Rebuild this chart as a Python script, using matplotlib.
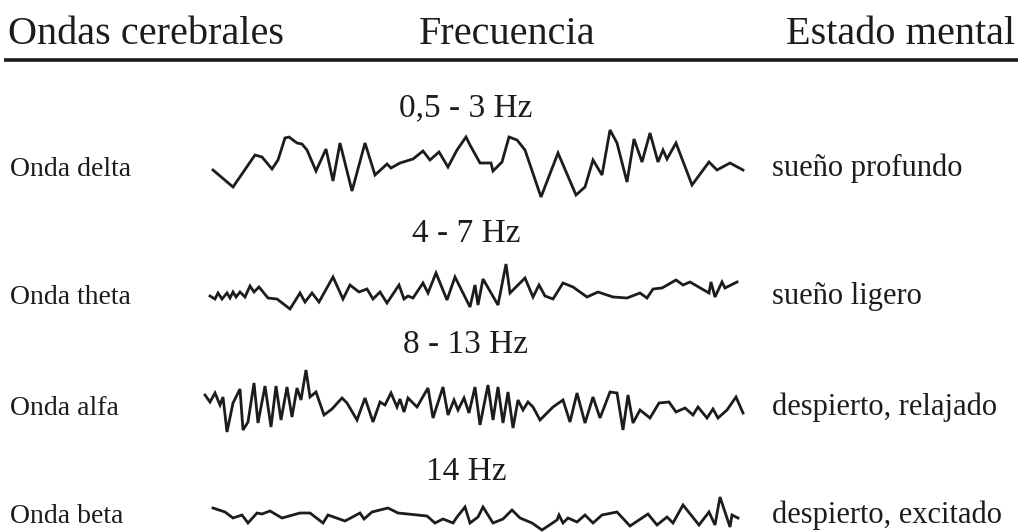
import numpy as np
import matplotlib.pyplot as plt

plt.rcParams['font.family'] = ['Liberation Serif', 'DejaVu Serif']

headers = ['Ondas cerebrales', 'Frecuencia', 'Estado mental']
wave_names = ['Onda delta', 'Onda theta', 'Onda alfa', 'Onda beta']
freqs = ['0,5 - 3 Hz', '4 - 7 Hz', '8 - 13 Hz', '14 Hz']
states = ['sueño profundo', 'sueño ligero', 'despierto, relajado', 'despierto, excitado']

# traces: t = horizontal step, a = deflection (up is +)
delta_t = [0, 20, 42, 49, 59, 65, 72, 76, 84, 89, 94, 103, 113, 120, 127, 139, 152, 162, 174, 178,
           187, 200, 210, 217, 226, 235, 244, 253, 257, 267, 278, 280, 289, 296, 304, 312, 328, 345,
           363, 372, 380, 389, 397, 404, 414, 421, 429, 437, 445, 450, 454, 463, 479, 496, 504, 517, 530]
delta_a = [-6, -23, 9, 7, -5, 4, 26, 27, 21, 20, 14, -7, 15, -17, 21, -27, 21, -11, 0, -4,
           1, 5, 13, 4, 12, -3, 14, 27, 19, 1, 1, -7, 2, 27, 24, 14, -33, 11,
           -31, -23, 4, -11, 34, 21, -18, 25, 2, 31, 2, 14, 5, 21, -21, 2, -6, 1, -6]

theta_t = [0, 5, 8, 12, 17, 20, 23, 26, 30, 35, 40, 44, 49, 58, 67, 80, 90, 95, 102, 109, 123, 133,
           140, 149, 157, 163, 170, 177, 189, 194, 198, 203, 213, 218, 226, 237, 245, 260, 265, 268,
           273, 288, 296, 300, 315, 323, 329, 335, 343, 353, 363, 377, 388, 403, 417, 430, 437, 443,
           452, 466, 473, 480, 499, 501, 505, 512, 515, 527]
theta_a = [-4, -7, -1, -7, -1, -6, 0, -5, 0, -5, 6, 0, 5, -6, -7, -17, -1, -10, -1, -10, 15, -7,
           7, 0, 3, -7, 0, -11, 7, -7, -4, -6, 9, -1, 19, -8, 15, -15, 7, -13,
           13, -13, 28, -1, 14, -5, 7, -4, -7, 9, 5, -5, 0, -5, -6, -1, -6, 3,
           4, 12, 7, 10, -1, 10, -5, 10, 4, 10]

alfa_t = [0, 5, 10, 15, 18, 22, 28, 35, 38, 43, 49, 53, 60, 66, 71, 76, 82, 87, 92, 96, 101, 105,
          111, 119, 127, 137, 142, 152, 160, 168, 175, 180, 186, 192, 195, 199, 203, 212, 223, 228,
          238, 243, 249, 253, 259, 264, 270, 275, 283, 288, 293, 298, 303, 308, 313, 318, 323, 328,
          335, 348, 358, 365, 372, 380, 388, 395, 405, 412, 418, 423, 428, 435, 445, 454, 464, 471,
          480, 488, 493, 502, 508, 513, 522, 531, 538]
alfa_a = [10, 3, 12, 0, 8, -27, 2, 16, -25, -17, 22, -18, 19, -22, 19, -15, 18, -12, 17, 5, 35, 8,
          13, -10, -4, 7, 2, -15, 7, -17, 3, 0, 12, -2, 6, -7, 7, -2, 17, -13,
          18, -10, 5, -5, 7, -8, 18, -20, 20, -15, 18, -18, 13, -23, 5, -5, 3, -2,
          -15, -2, 5, -17, 12, -18, 8, -13, 13, 12, -25, 10, -18, -5, -13, 2, 3, -7,
          -3, -10, -2, -13, -4, -13, -5, 8, -8]

beta_t = [0, 12, 20, 29, 35, 44, 49, 57, 69, 87, 97, 110, 115, 132, 147, 151, 159, 175, 185, 214,
          222, 230, 240, 244, 252, 257, 265, 270, 280, 290, 299, 307, 319, 329, 344, 346, 350, 355,
          364, 372, 380, 389, 404, 417, 435, 444, 454, 460, 470, 486, 496, 502, 507, 517, 519, 525]
beta_a = [7, 3, -3, 0, -8, 2, 1, 4, -3, 2, 2, -8, 0, -6, 2, -4, 3, 7, 2, -1,
          -8, -4, -8, -2, 8, -8, -2, 8, -8, -4, 5, -3, -8, -15, -5, 0, -8, -3,
          -7, 0, -8, 0, 3, -11, 1, -10, -2, -8, 10, -10, 3, -10, 18, -12, 0, -3]

waves = [(delta_t, delta_a), (theta_t, theta_a), (alfa_t, alfa_a), (beta_t, beta_a)]

# layout in pixels (y grows downward)
wave_x0 = [213, 210, 205, 213]
wave_base = [164, 292, 405, 515]
label_y = [176, 304, 415, 523]
freq_y = [116, 242, 353, 480]

ink = '#1c1c1c'

fig = plt.figure(figsize=(10.18, 5.32), dpi=100)
ax = fig.add_axes([0, 0, 1, 1])
ax.set_xlim(0, 1018)
ax.set_ylim(532, 0)
ax.axis('off')

ax.text(8, 44, headers[0], fontsize=29, color=ink, ha='left', va='baseline')
ax.text(507, 44, headers[1], fontsize=29, color=ink, ha='center', va='baseline')
ax.text(1015, 44, headers[2], fontsize=29, color=ink, ha='right', va='baseline')
ax.plot([4, 1018], [60, 60], color=ink, lw=2.6, solid_capstyle='butt')

for i, (t, a) in enumerate(waves):
    x = wave_x0[i] + np.array(t)
    y = wave_base[i] - np.array(a)
    ax.plot(x, y, color=ink, lw=2.0, solid_joinstyle='miter')
    ax.text(10, label_y[i], wave_names[i], fontsize=20, color=ink, ha='left', va='baseline')
    ax.text(772, label_y[i], states[i], fontsize=22, color=ink, ha='left', va='baseline')
    ax.text(466, freq_y[i], freqs[i], fontsize=24, color=ink, ha='center', va='baseline')

fig.savefig('out.png', dpi=100, facecolor='white')
